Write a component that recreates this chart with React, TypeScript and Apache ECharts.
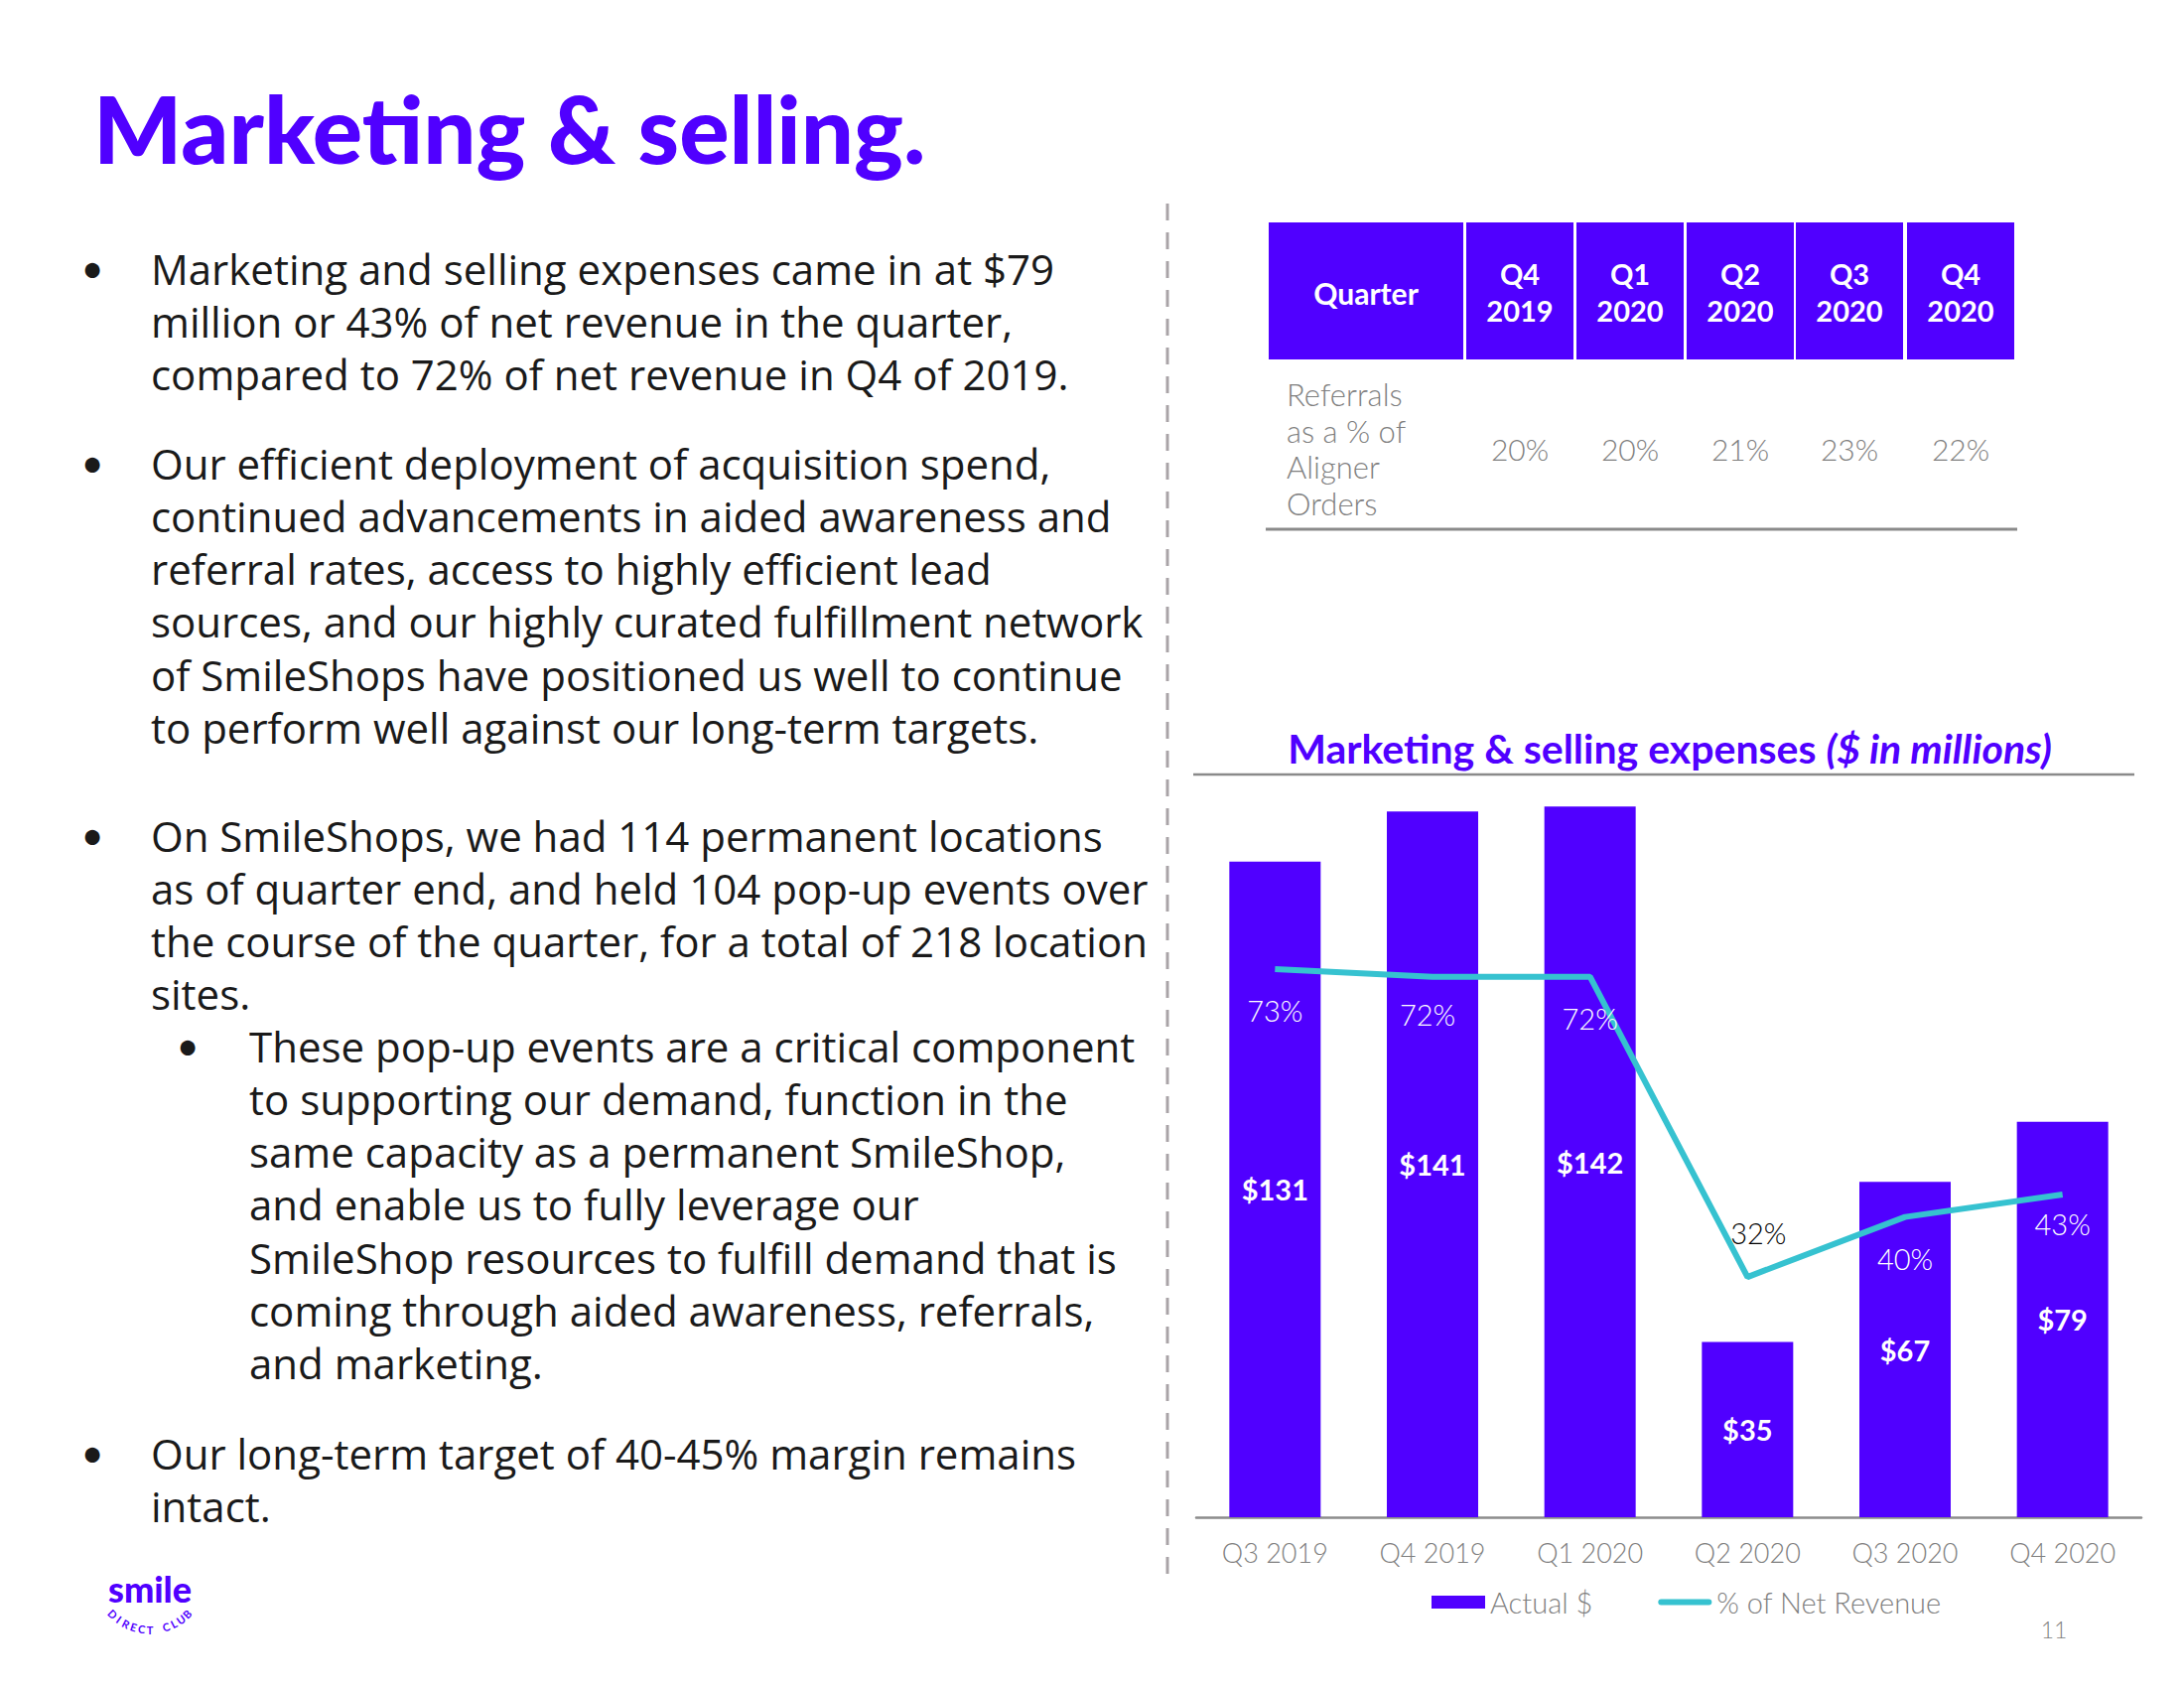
import React, { useEffect, useRef } from "react";
import * as echarts from "echarts";

// ---------- data ----------
const quarters = ["Q3 2019", "Q4 2019", "Q1 2020", "Q2 2020", "Q3 2020", "Q4 2020"];
const actualSpend = [131, 141, 142, 35, 67, 79]; // $ in millions
const pctNetRevenue = [73, 72, 72, 32, 40, 43]; // % of net revenue

const tableQuarterLabels = ["Q4\n2019", "Q1\n2020", "Q2\n2020", "Q3\n2020", "Q4\n2020"];
const referralPct = [20, 20, 21, 23, 22];
const tableRowLabel = ["Referrals", "as a % of", "Aligner", "Orders"];

const pageTitle = "Marketing & selling.";
const chartTitleMain = "Marketing & selling expenses ";
const chartTitleUnit = "($ in millions)";
const seriesNames = ["Actual $", "% of Net Revenue"];

const paragraphs: { level: number; lines: string[] }[] = [
  {
    level: 0,
    lines: [
      "Marketing and selling expenses came in at $79",
      "million or 43% of net revenue in the quarter,",
      "compared to 72% of net revenue in Q4 of 2019.",
    ],
  },
  {
    level: 0,
    lines: [
      "Our efficient deployment of acquisition spend,",
      "continued advancements in aided awareness and",
      "referral rates, access to highly efficient lead",
      "sources, and our highly curated fulfillment network",
      "of SmileShops have positioned us well to continue",
      "to perform well against our long-term targets.",
    ],
  },
  {
    level: 0,
    lines: [
      "On SmileShops, we had 114 permanent locations",
      "as of quarter end, and held 104 pop-up events over",
      "the course of the quarter, for a total of 218 location",
      "sites.",
    ],
  },
  {
    level: 1,
    lines: [
      "These pop-up events are a critical component",
      "to supporting our demand, function in the",
      "same capacity as a permanent SmileShop,",
      "and enable us to fully leverage our",
      "SmileShop resources to fulfill demand that is",
      "coming through aided awareness, referrals,",
      "and marketing.",
    ],
  },
  {
    level: 0,
    lines: ["Our long-term target of 40-45% margin remains", "intact."],
  },
];

// ---------- styles ----------
const PURPLE = "#5000FF";
const TEAL = "#36C2D0";
const GRAY = "#7F7F7F";
const FONT = "Lato, 'Open Sans', sans-serif";
const BODY_FONT = "'Open Sans', Lato, sans-serif";

// paragraph first-line centres (layout)
const paraTops = [270, 466, 841, 1053, 1463];
const LINE_H = 53.3;

function buildGraphics() {
  const g: any[] = [];
  const txt = (x: number, y: number, text: string, o: any = {}) => ({
    type: "text",
    x,
    y,
    silent: true,
    style: {
      text,
      fill: o.fill || "#1A1A1A",
      fontSize: o.fontSize || 38,
      fontFamily: o.fontFamily || FONT,
      fontWeight: o.fontWeight || "normal",
      fontStyle: o.fontStyle || "normal",
      align: o.align || "left",
      textAlign: o.align || "left",
      verticalAlign: o.va || "middle",
      textVerticalAlign: o.va || "middle",
      lineHeight: o.lineHeight,
      rich: o.rich,
    },
    rotation: o.rotation || 0,
  });

  // page title
  g.push(txt(94, 128, pageTitle, { fill: PURPLE, fontSize: 94, fontWeight: 900 }));

  // bullets + body text
  paragraphs.forEach((p, i) => {
    const y0 = paraTops[i];
    const bx = p.level === 0 ? 93 : 189;
    const tx = p.level === 0 ? 152 : 251;
    g.push(txt(bx, y0, "•", { fontSize: 40, fontFamily: FONT, align: "center" }));
    p.lines.forEach((ln, j) =>
      g.push(txt(tx, y0 + j * LINE_H, ln, { fontSize: 42, fontFamily: BODY_FONT }))
    );
  });

  // dashed separator
  g.push({
    type: "line",
    silent: true,
    shape: { x1: 1176, y1: 205, x2: 1176, y2: 1592 },
    style: { stroke: "#A9A4A7", lineWidth: 3, lineDash: [17, 12] },
  });

  // table header
  g.push({ type: "rect", shape: { x: 1278, y: 224, width: 196, height: 138 }, style: { fill: PURPLE } });
  g.push(txt(1376, 295, "Quarter", { fill: "#FFFFFF", fontSize: 30, fontWeight: "bold", align: "center" }));
  const colX = [1477, 1588, 1699, 1809, 1921];
  const colW = 108;
  tableQuarterLabels.forEach((lab, i) => {
    g.push({ type: "rect", shape: { x: colX[i], y: 224, width: colW, height: 138 }, style: { fill: PURPLE } });
    g.push(
      txt(colX[i] + colW / 2, 294, lab, {
        fill: "#FFFFFF",
        fontSize: 29,
        fontWeight: "bold",
        align: "center",
        lineHeight: 37,
      })
    );
    g.push(
      txt(colX[i] + colW / 2, 452, referralPct[i] + "%", {
        fill: GRAY,
        fontSize: 30,
        fontWeight: 300,
        align: "center",
      })
    );
  });
  tableRowLabel.forEach((s, i) =>
    g.push(txt(1296, 397 + i * 36.5, s, { fill: GRAY, fontSize: 31, fontWeight: 300 }))
  );
  g.push({
    type: "line",
    silent: true,
    shape: { x1: 1275, y1: 533, x2: 2032, y2: 533 },
    style: { stroke: "#8A8A8A", lineWidth: 3 },
  });

  // chart title + rule
  g.push(
    txt(1682, 753, `{a|${chartTitleMain}}{b|${chartTitleUnit}}`, {
      align: "center",
      fill: PURPLE,
      fontSize: 41,
      fontWeight: "bold",
      rich: {
        a: { fontSize: 41, fontWeight: "bold", fontFamily: FONT, fill: PURPLE, color: PURPLE },
        b: { fontSize: 41, fontWeight: "bold", fontStyle: "italic", fontFamily: FONT, fill: PURPLE, color: PURPLE },
      },
    })
  );
  g.push({
    type: "line",
    silent: true,
    shape: { x1: 1202, y1: 780, x2: 2150, y2: 780 },
    style: { stroke: "#8A8A8A", lineWidth: 2.5 },
  });

  // page number
  g.push(txt(2069, 1641, "11", { fill: GRAY, fontSize: 23, fontWeight: 300, align: "center" }));

  // logo
  g.push(txt(151, 1600, "smile", { fill: PURPLE, fontSize: 36, fontWeight: 900, align: "center" }));
  const arcText = "DIRECT CLUB";
  const cx = 151,
    cy = 1588,
    r = 53;
  const a0 = 135,
    a1 = 45;
  for (let i = 0; i < arcText.length; i++) {
    const ch = arcText[i];
    if (ch === " ") continue;
    const a = a0 + ((a1 - a0) * i) / (arcText.length - 1);
    const rad = (a * Math.PI) / 180;
    g.push(
      txt(cx + r * Math.cos(rad), cy + r * Math.sin(rad), ch, {
        fill: PURPLE,
        fontSize: 11,
        fontWeight: "bold",
        align: "center",
        rotation: ((90 - a) * Math.PI) / 180,
      })
    );
  }
  return g;
}

// per-point label placement for the % line (layout)
const pctLabelLayout = [
  { position: "bottom", distance: 27, offset: [0, 0], color: "#FFFFFF" },
  { position: "bottom", distance: 23, offset: [-5, 0], color: "#FFFFFF" },
  { position: "bottom", distance: 27, offset: [0, 0], color: "#FFFFFF" },
  { position: "top", distance: 30, offset: [11, 0], color: "#000000" },
  { position: "bottom", distance: 27, offset: [0, 0], color: "#FFFFFF" },
  { position: "bottom", distance: 15, offset: [0, 0], color: "#FFFFFF" },
];

export default function App() {
  const ref = useRef<HTMLDivElement>(null);
  useEffect(() => {
    if (!ref.current) return;
    const chart = echarts.init(ref.current, undefined, { renderer: "svg" });
    chart.setOption({
      animation: false,
      backgroundColor: "#FFFFFF",
      textStyle: { fontFamily: FONT },
      grid: { left: 1205, right: 43, top: 772, bottom: 172, containLabel: false },
      legend: {
        left: 1442,
        top: 1599,
        padding: 0,
        itemWidth: 54,
        itemHeight: 13,
        itemGap: 66,
        symbolKeepAspect: true,
        textStyle: { color: GRAY, fontSize: 29, fontWeight: 300, fontFamily: FONT },
        data: [
          { name: seriesNames[0], icon: "rect", itemStyle: { color: PURPLE } },
          {
            name: seriesNames[1],
            icon: "path://M3,0 L51,0 A3,3 0 0 1 51,6 L3,6 A3,3 0 0 1 3,0 Z",
            itemStyle: { color: TEAL },
          },
        ],
      },
      xAxis: {
        type: "category",
        data: quarters,
        axisLine: { lineStyle: { color: "#8C8C8C", width: 2.5 } },
        axisTick: { show: false },
        axisLabel: { color: GRAY, fontSize: 27, fontWeight: 300, margin: 22, fontFamily: FONT },
      },
      yAxis: [
        { type: "value", min: 0, max: 150, show: false, splitLine: { show: false } },
        { type: "value", min: 0, max: 100, show: false, splitLine: { show: false } },
      ],
      series: [
        {
          name: seriesNames[0],
          type: "bar",
          yAxisIndex: 0,
          barWidth: 92,
          data: actualSpend,
          itemStyle: { color: PURPLE },
          label: {
            show: true,
            position: "inside",
            formatter: (p: any) => "$" + p.value,
            color: "#FFFFFF",
            fontSize: 29,
            fontWeight: "bold",
            fontFamily: FONT,
          },
          z: 2,
        },
        {
          name: seriesNames[1],
          type: "line",
          yAxisIndex: 1,
          symbol: "circle",
          symbolSize: 0.1,
          showSymbol: true,
          lineStyle: { color: TEAL, width: 6 },
          itemStyle: { color: TEAL },
          data: pctNetRevenue.map((v, i) => ({
            value: v,
            label: {
              show: true,
              position: pctLabelLayout[i].position,
              distance: pctLabelLayout[i].distance,
              offset: pctLabelLayout[i].offset,
              color: pctLabelLayout[i].color,
            },
          })),
          label: {
            show: true,
            formatter: (p: any) => p.value + "%",
            fontSize: 29,
            fontWeight: 300,
            fontFamily: FONT,
          },
          z: 3,
        },
      ],
      graphic: { elements: buildGraphics() },
    });
    return () => chart.dispose();
  }, []);
  return (
    <div
      ref={ref}
      style={{ position: "absolute", left: 0, top: 0, width: 2200, height: 1700, background: "#FFFFFF" }}
    />
  );
}
